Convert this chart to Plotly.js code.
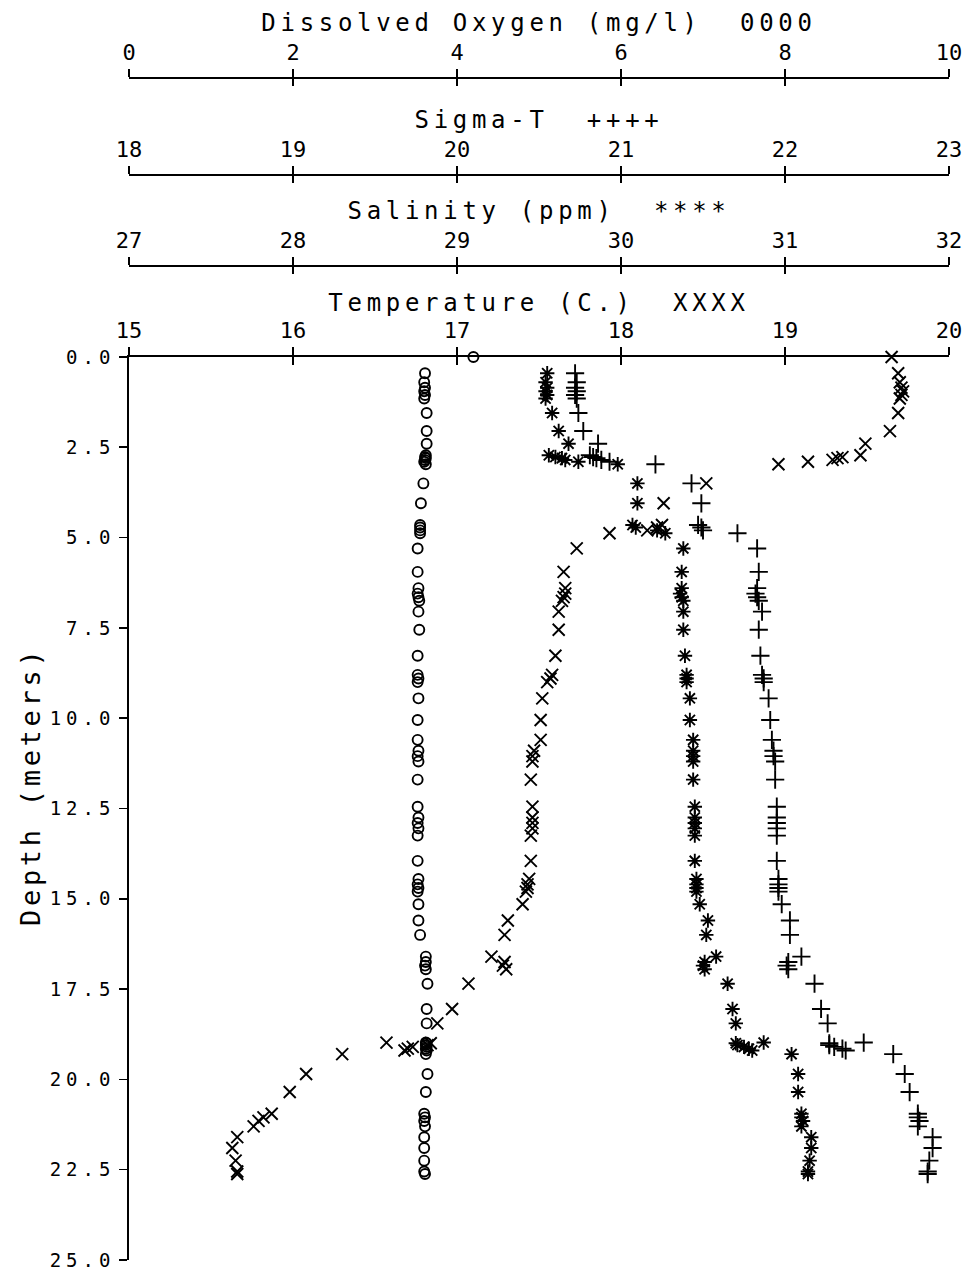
<!DOCTYPE html>
<html><head><meta charset="utf-8">
<script src="https://cdn.plot.ly/plotly-3.0.1.min.js"></script>
<style>
body{margin:0;background:#fff}
#chart{width:965px;height:1274px}
text.xtitle, text.x2title, text.x3title, text.x4title {letter-spacing:4.7px}
.ytick text {letter-spacing:5px}
.annotation-text {letter-spacing:3.7px}
</style></head><body><div id="chart"></div><script>
// Depth of each sample (m)
const depth = [0.0,0.45,0.70,0.85,0.95,1.05,1.15,1.55,2.05,2.40,
  2.72,2.77,2.80,2.85,2.90,2.97,3.50,4.05,4.65,4.72,
  4.80,4.88,5.30,5.95,6.40,6.55,6.65,6.75,7.05,7.55,
  8.27,8.80,8.90,9.00,9.45,10.05,10.60,10.90,11.05,11.20,
  11.70,12.45,12.75,12.90,13.05,13.25,13.95,14.45,14.60,14.70,
  14.80,15.15,15.60,16.00,16.60,16.75,16.85,16.95,17.35,18.05,
  18.45,18.98,19.00,19.05,19.10,19.15,19.20,19.30,19.85,20.35,
  20.95,21.05,21.15,21.30,21.60,21.90,22.25,22.55,22.62];
// Dissolved oxygen (mg/l)
const dissolvedOxygen = [4.20,3.61,3.60,3.61,3.60,3.61,3.60,3.63,3.63,3.63,
  3.62,3.61,3.62,3.61,3.60,3.62,3.59,3.56,3.55,3.55,
  3.55,3.55,3.52,3.52,3.53,3.52,3.53,3.54,3.53,3.54,
  3.52,3.52,3.53,3.52,3.53,3.52,3.52,3.53,3.52,3.53,
  3.52,3.52,3.53,3.52,3.53,3.52,3.52,3.53,3.52,3.53,
  3.52,3.53,3.53,3.55,3.62,3.62,3.61,3.62,3.64,3.63,
  3.63,3.62,3.63,3.62,3.63,3.62,3.63,3.62,3.64,3.62,
  3.60,3.61,3.60,3.61,3.60,3.60,3.60,3.60,3.61];
// Salinity (ppm)
const salinity = [null,29.55,29.54,29.55,29.54,29.55,29.54,29.58,29.62,29.68,
  29.56,29.60,29.64,29.66,29.74,29.98,30.10,30.10,30.07,30.09,
  30.22,30.27,30.38,30.37,30.37,30.36,30.37,30.38,30.38,30.38,
  30.39,30.40,30.40,30.40,30.42,30.42,30.44,30.44,30.44,30.44,
  30.44,30.45,30.45,30.45,30.45,30.45,30.45,30.46,30.46,30.46,
  30.46,30.48,30.53,30.52,30.58,30.51,30.50,30.51,30.65,30.68,
  30.70,30.87,30.70,30.71,30.75,30.78,30.80,31.04,31.08,31.08,
  31.10,31.10,31.11,31.10,31.16,31.16,31.15,31.14,31.14];
// Sigma-T
const sigmaT = [null,20.72,20.73,20.72,20.73,20.72,20.73,20.74,20.77,20.86,
  20.81,20.83,20.85,20.88,20.93,21.21,21.43,21.49,21.47,21.49,
  21.50,21.71,21.83,21.84,21.83,21.82,21.83,21.84,21.86,21.84,
  21.85,21.86,21.87,21.87,21.90,21.91,21.92,21.93,21.93,21.94,
  21.94,21.95,21.95,21.95,21.95,21.95,21.95,21.96,21.96,21.96,
  21.96,21.98,22.03,22.03,22.10,22.02,22.01,22.02,22.18,22.22,
  22.26,22.48,22.27,22.27,22.30,22.35,22.37,22.66,22.73,22.76,
  22.81,22.81,22.82,22.81,22.90,22.90,22.88,22.87,22.87];
// Temperature (C.)
const temperature = [19.65,19.69,19.70,19.71,19.72,19.71,19.70,19.69,19.64,19.49,
  19.46,19.35,19.32,19.29,19.14,18.96,18.52,18.26,18.25,18.22,
  18.16,17.93,17.73,17.65,17.66,17.66,17.65,17.64,17.62,17.62,
  17.60,17.58,17.57,17.55,17.52,17.51,17.51,17.47,17.46,17.46,
  17.45,17.46,17.46,17.46,17.46,17.45,17.45,17.44,17.43,17.43,
  17.42,17.40,17.31,17.29,17.21,17.29,17.28,17.30,17.07,16.97,
  16.88,16.57,16.84,16.82,16.73,16.70,16.68,16.30,16.08,15.98,
  15.87,15.82,15.79,15.76,15.66,15.63,15.65,15.66,15.66];

const depthTicks = [0,2.5,5,7.5,10,12.5,15,17.5,20,22.5,25];
const NB = '\u00A0';
const titleDO = 'Dissolved' + NB + 'Oxygen' + NB + '(mg/l)' + NB + NB + '0000';
const titleSig = 'Sigma-T' + NB + NB + '++++';
const titleSal = 'Salinity' + NB + '(ppm)' + NB + NB + '****';
const titleTemp = 'Temperature' + NB + '(C.)' + NB + NB + 'XXXX';
const titleDepth = 'Depth' + NB + '(meters)';

const F = 'DejaVu Sans Mono';
const W = 965, H = 1274, T = 10, B = 14, L = 129, R = 16;
const plotH = H - T - B, plotW = W - L - R;
const pos = px => (H - B - px) / plotH;
const yTop = pos(357);

function axis(range, dtick, extra) {
  return Object.assign({
    range: range, dtick: dtick, tick0: range[0], autorange: false,
    showgrid: false, zeroline: false, showline: true, linecolor: '#000', linewidth: 1.8,
    ticks: 'outside', ticklen: 8, tickwidth: 1.6, tickcolor: '#000', side: 'top',
    tickfont: {family: F, size: 22, color: '#000'}, fixedrange: true
  }, extra);
}
function inner(range, dtick, extra) {
  return Object.assign({
    range: range, dtick: dtick, tick0: range[0], autorange: false,
    showgrid: false, zeroline: false, showline: false, showticklabels: false,
    ticks: 'inside', ticklen: 8, tickwidth: 1.6, tickcolor: '#000', side: 'top', fixedrange: true
  }, extra);
}
const tf = {family: F, size: 24, color: '#000'};

const layout = {
  width: W, height: H,
  margin: {l: L, r: R, t: T, b: B},
  paper_bgcolor: '#fff', plot_bgcolor: '#fff',
  showlegend: false,
  xaxis: axis([15,20], 1, {anchor: 'y', title: {text: titleTemp, font: tf, standoff: 0}}),
  xaxis2: axis([0,10], 2, {overlaying: 'x', anchor: 'free', position: pos(77), title: {text: titleDO, font: tf, standoff: 0}}),
  xaxis3: axis([18,23], 1, {overlaying: 'x', anchor: 'free', position: pos(174), title: {text: titleSig, font: tf, standoff: 0}}),
  xaxis4: axis([27,32], 1, {overlaying: 'x', anchor: 'free', position: pos(265), title: {text: titleSal, font: tf, standoff: 0}}),
  xaxis5: inner([15,20], 1, {overlaying: 'x', anchor: 'y'}),
  xaxis6: inner([0,10], 2, {overlaying: 'x', anchor: 'free', position: pos(77)}),
  xaxis7: inner([18,23], 1, {overlaying: 'x', anchor: 'free', position: pos(174)}),
  xaxis8: inner([27,32], 1, {overlaying: 'x', anchor: 'free', position: pos(265)}),
  yaxis: {
    domain: [0, yTop], range: [25, 0], autorange: false,
    tickvals: depthTicks, tickformat: '.1f',
    showgrid: false, zeroline: false, showline: true, linecolor: '#000', linewidth: 1.8,
    ticks: 'outside', ticklen: 8, tickwidth: 1.6, tickcolor: '#000',
    tickfont: {family: F, size: 19, color: '#000'}, fixedrange: true
  },
  annotations: [{
    text: titleDepth, xref: 'paper', yref: 'paper',
    x: (31 - L) / plotW, y: pos(787), xanchor: 'center', yanchor: 'middle',
    textangle: -90, showarrow: false,
    font: {family: F, size: 27, color: '#000'}
  }]
};

function tr(x, ax, symbol, size) {
  return {x: x, y: depth, xaxis: ax, yaxis: 'y', type: 'scatter', mode: 'markers', cliponaxis: false,
    hoverinfo: 'skip',
    marker: {symbol: symbol, size: size, color: '#000', line: {width: 1.9, color: '#000'}}};
}
const data = [
  tr(dissolvedOxygen, 'x2', 'circle-open', 10),
  tr(sigmaT, 'x3', 'cross-thin-open', 13),
  tr(salinity, 'x4', 'asterisk-open', 12),
  tr(temperature, 'x', 'x-thin-open', 12),
  {x: [], y: [], xaxis: 'x5', yaxis: 'y', type: 'scatter', mode: 'markers'},
  {x: [], y: [], xaxis: 'x6', yaxis: 'y', type: 'scatter', mode: 'markers'},
  {x: [], y: [], xaxis: 'x7', yaxis: 'y', type: 'scatter', mode: 'markers'},
  {x: [], y: [], xaxis: 'x8', yaxis: 'y', type: 'scatter', mode: 'markers'}
];
Plotly.newPlot('chart', data, layout, {displayModeBar: false, staticPlot: true});
</script></body></html>
